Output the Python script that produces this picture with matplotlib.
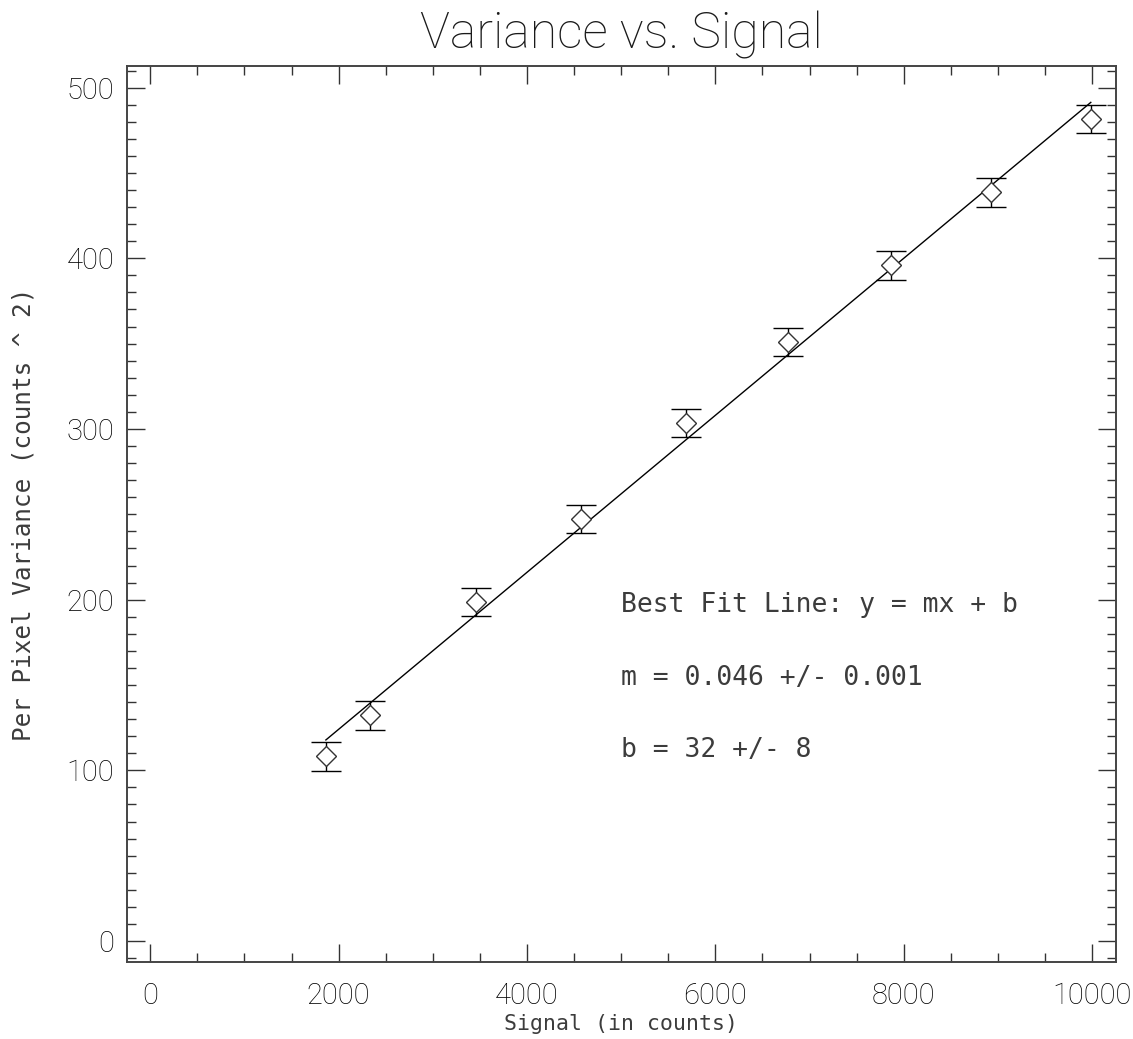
import matplotlib
matplotlib.use("Agg")
import matplotlib.pyplot as plt
from matplotlib.ticker import MultipleLocator
import numpy as np

# measured points (signal, variance) with error bars
signal = [1865, 2335, 3454, 4572, 5690, 6773, 7863, 8925, 9986]
variance = [108.1, 132.2, 198.6, 247.4, 303.5, 350.9, 395.8, 438.6, 481.7]
var_err = [8.3, 8.3, 8.3, 8.3, 8.3, 8.3, 8.3, 8.3, 8.3]

# best fit values
m = 0.046
b = 32

plt.rcParams['font.family'] = ['Roboto', 'DejaVu Sans']
plt.rcParams['font.weight'] = 'light'
mono = ['DejaVu Sans Mono']
txt_col = '#1a1a1a'
mono_col = '#3c3c3c'

fig = plt.figure(figsize=(11.33, 10.39), dpi=100)
ax = fig.add_axes([0.1118, 0.0738, 0.8729, 0.8624])

ax.errorbar(signal, variance, yerr=var_err, fmt='D', mfc='white', mec='#333333',
            mew=1.0, ms=10, ecolor='black', elinewidth=1.0, capsize=10.5, capthick=1.6)

fit_x = np.array([signal[0], signal[-1]])
ax.plot(fit_x, m * fit_x + b, color='black', lw=1.0)

ax.set_xlim(-250, 10250)
ax.set_ylim(-12.5, 512.5)

ax.xaxis.set_major_locator(MultipleLocator(2000))
ax.xaxis.set_minor_locator(MultipleLocator(500))
ax.yaxis.set_major_locator(MultipleLocator(100))
ax.yaxis.set_minor_locator(MultipleLocator(10))

ax.tick_params(which='both', direction='in', top=True, right=True, colors='#333333', width=1.0)
ax.tick_params(which='major', length=13)
ax.tick_params(which='minor', length=6.5)
ax.tick_params(axis='both', labelsize=21, labelcolor='black')
ax.tick_params(axis='x', pad=14)
ax.tick_params(axis='y', pad=9)
for lab in ax.get_xticklabels() + ax.get_yticklabels():
    lab.set_fontweight('light')
for s in ax.spines.values():
    s.set_color('#444444')
    s.set_linewidth(1.4)

ax.set_title("Variance vs. Signal", fontsize=36, pad=13, color=txt_col, fontweight='light')
ax.set_xlabel("Signal (in counts)", fontsize=15.5, color=mono_col, family=mono, labelpad=3)
ax.set_ylabel("Per Pixel Variance (counts ^ 2)", fontsize=17.5, color=mono_col, family=mono, labelpad=22)

ax.text(5000, 193, "Best Fit Line: y = mx + b", fontsize=19, color=mono_col, family=mono)
ax.text(5000, 150, "m = %.3f +/- 0.001" % m, fontsize=19, color=mono_col, family=mono)
ax.text(5000, 108, "b = %d +/- 8" % b, fontsize=19, color=mono_col, family=mono)

fig.savefig("out.png", dpi=100)
